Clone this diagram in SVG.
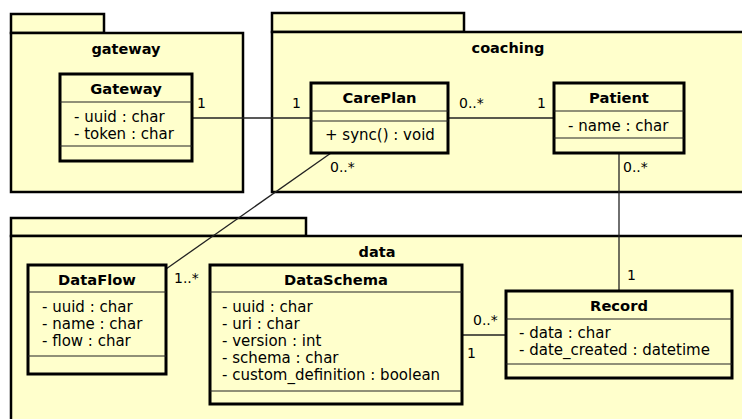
<svg xmlns="http://www.w3.org/2000/svg" width="742" height="419" viewBox="0 0 742 419">
<style>
.pkg{fill:#ffffcc;stroke:#000;stroke-width:2.5}
.cls{fill:#ffffcc;stroke:#000;stroke-width:3}
.div{stroke:#222;stroke-width:1.2}
.con{stroke:#222;stroke-width:1.3;fill:none}
text{font-family:"DejaVu Sans",sans-serif;fill:#000}
.pn{font-size:14.5px;font-weight:bold;text-anchor:middle}
.cn{font-size:14.7px;font-weight:bold;text-anchor:middle}
.at{font-size:15px}
.ml{font-size:14px}
</style>
<rect width="742" height="419" fill="#fff"/>
<g id="pkg-gateway">
<rect class="pkg" x="11" y="14" width="93" height="19"/>
<rect class="pkg" x="11" y="33" width="232" height="159"/>
<text class="pn" x="126" y="54">gateway</text>
</g>
<g id="pkg-coaching">
<rect class="pkg" x="272" y="13" width="192" height="19"/>
<rect class="pkg" x="272" y="32" width="480" height="160"/>
<text class="pn" x="508" y="53">coaching</text>
</g>
<g id="pkg-data">
<rect class="pkg" x="11" y="218" width="295" height="18"/>
<rect class="pkg" x="11" y="236" width="741" height="200"/>
<text class="pn" x="377" y="257">data</text>
</g>
<g id="connectors">
<line class="con" x1="192" y1="118" x2="311" y2="118"/>
<line class="con" x1="448" y1="118" x2="554" y2="118"/>
<line class="con" x1="331" y1="153" x2="166" y2="269"/>
<line class="con" x1="619" y1="153" x2="619" y2="291"/>
<line class="con" x1="462" y1="335" x2="506" y2="335"/>
<text class="ml" x="197" y="108">1</text>
<text class="ml" x="292" y="108">1</text>
<text class="ml" x="459" y="108">0..*</text>
<text class="ml" x="537" y="108">1</text>
<text class="ml" x="330" y="172">0..*</text>
<text class="ml" x="174" y="283">1..*</text>
<text class="ml" x="623" y="172">0..*</text>
<text class="ml" x="627" y="280">1</text>
<text class="ml" x="473" y="325">0..*</text>
<text class="ml" x="467" y="358">1</text>
</g>
<g id="Gateway">
<rect class="cls" x="60" y="74" width="132" height="87"/>
<line class="div" x1="60" y1="102" x2="192" y2="102"/>
<line class="div" x1="60" y1="146" x2="192" y2="146"/>
<text class="cn" x="126" y="94">Gateway</text>
<text class="at" x="74" y="122">- uuid : char</text>
<text class="at" x="74" y="139">- token : char</text>
</g>
<g id="CarePlan">
<rect class="cls" x="311" y="83" width="137" height="70"/>
<line class="div" x1="311" y1="111" x2="448" y2="111"/>
<line class="div" x1="311" y1="121" x2="448" y2="121"/>
<text class="cn" x="379.5" y="103">CarePlan</text>
<text class="at" x="325" y="140">+ sync() : void</text>
</g>
<g id="Patient">
<rect class="cls" x="554" y="83" width="130" height="70"/>
<line class="div" x1="554" y1="111" x2="684" y2="111"/>
<line class="div" x1="554" y1="138" x2="684" y2="138"/>
<text class="cn" x="619" y="103">Patient</text>
<text class="at" x="568" y="131">- name : char</text>
</g>
<g id="DataFlow">
<rect class="cls" x="28" y="265" width="138" height="109"/>
<line class="div" x1="28" y1="292" x2="166" y2="292"/>
<line class="div" x1="28" y1="356" x2="166" y2="356"/>
<text class="cn" x="97" y="285">DataFlow</text>
<text class="at" x="42" y="312">- uuid : char</text>
<text class="at" x="42" y="329">- name : char</text>
<text class="at" x="42" y="346">- flow : char</text>
</g>
<g id="DataSchema">
<rect class="cls" x="210" y="265" width="252" height="139"/>
<line class="div" x1="210" y1="292" x2="462" y2="292"/>
<line class="div" x1="210" y1="391" x2="462" y2="391"/>
<text class="cn" x="336" y="285">DataSchema</text>
<text class="at" x="222" y="312">- uuid : char</text>
<text class="at" x="222" y="329">- uri : char</text>
<text class="at" x="222" y="346">- version : int</text>
<text class="at" x="222" y="363">- schema : char</text>
<text class="at" x="222" y="380">- custom_definition : boolean</text>
</g>
<g id="Record">
<rect class="cls" x="506" y="291" width="226" height="87"/>
<line class="div" x1="506" y1="319" x2="732" y2="319"/>
<line class="div" x1="506" y1="364" x2="732" y2="364"/>
<text class="cn" x="619" y="311">Record</text>
<text class="at" x="519" y="338">- data : char</text>
<text class="at" x="519" y="355">- date_created : datetime</text>
</g>
</svg>
